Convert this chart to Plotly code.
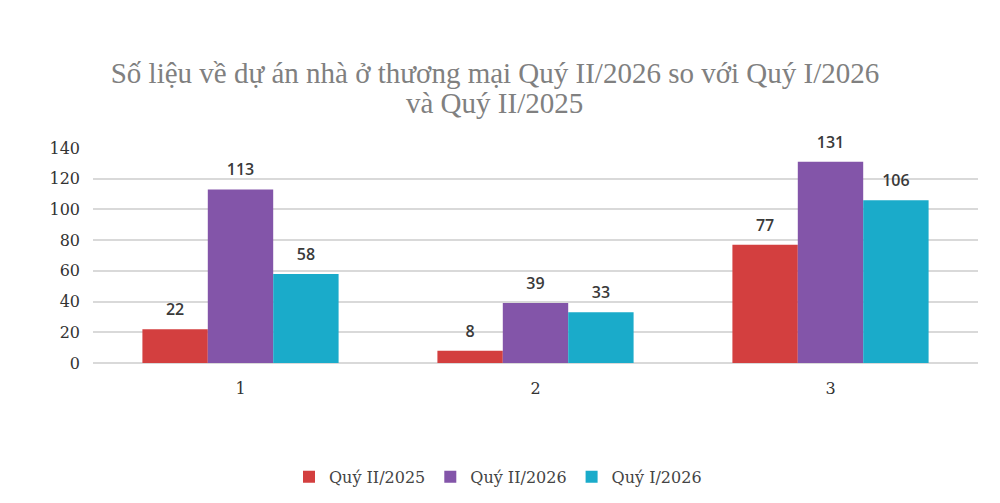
import plotly.graph_objects as go

categories = ["1", "2", "3"]
series_names = ["Quý II/2025", "Quý II/2026", "Quý I/2026"]
q2_2025 = [22, 8, 77]
q2_2026 = [113, 39, 131]
q1_2026 = [58, 33, 106]
y_ticks = [0, 20, 40, 60, 80, 100, 120, 140]
title_line1 = "Số liệu về dự án nhà ở thương mại Quý II/2026 so với Quý I/2026"
title_line2 = "và Quý II/2025"

colors = ["#d33f3f", "#8355a9", "#1aabca"]
values = [q2_2025, q2_2026, q1_2026]

fig = go.Figure()
for name, vals, col in zip(series_names, values, colors):
    fig.add_trace(go.Bar(
        x=categories, y=vals, name=name,
        marker=dict(color=col, line=dict(width=0)),
        text=vals, textposition="outside",
        texttemplate="<span style='font-size:16px'>%{y}</span><br> ",
        textfont=dict(family="Open Sans", size=7, color="#3a3a3a", weight=600),
        cliponaxis=False,
    ))

fig.update_layout(
    width=1000, height=503,
    paper_bgcolor="white", plot_bgcolor="white",
    margin=dict(l=85, r=30, t=140, b=148),
    barmode="group", bargap=0.335, bargroupgap=0,
    title=dict(
        text=title_line1,
        x=0.487, xref="container", xanchor="center",
        y=0.871, yref="container", yanchor="middle",
        font=dict(family="Liberation Serif", size=29, color="#808080"),
    ),
    annotations=[dict(
        text=title_line2, showarrow=False,
        x=0.454, xref="paper", xanchor="center",
        y=1.209, yref="paper", yanchor="middle",
        font=dict(family="Liberation Serif", size=29, color="#808080"),
    )],
    legend=dict(
        orientation="h", x=0.49, xref="container", xanchor="center",
        y=0.068, yref="container", yanchor="middle",
        font=dict(family="DejaVu Serif", size=16, color="#444444"),
        itemwidth=30, traceorder="normal",
    ),
    xaxis=dict(
        showgrid=False, showline=False, ticks="",
        tickfont=dict(family="DejaVu Serif", size=16, color="#333333"),
        ticklabelstandoff=14,
    ),
    yaxis=dict(
        range=[0, 140], tickvals=y_ticks,
        showgrid=True, gridcolor="#d9d9d9", gridwidth=2,
        zeroline=True, zerolinecolor="#d9d9d9", zerolinewidth=2,
        showline=False, ticks="",
        tickfont=dict(family="DejaVu Serif", size=16, color="#333333"),
        ticklabelstandoff=12,
    ),
)

fig.write_html("out.html")
